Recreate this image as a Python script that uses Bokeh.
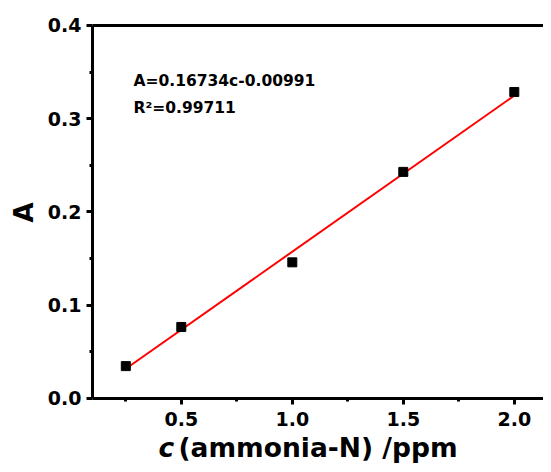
import math
from bokeh.plotting import figure
from bokeh.models import Range1d, FixedTicker, Label, LinearAxis
from bokeh.embed import file_html
from bokeh.resources import INLINE

# data
conc = [0.25, 0.5, 1.0, 1.5, 2.0]
absorb = [0.0347, 0.0767, 0.146, 0.243, 0.3287]
fit_x = [0.25, 2.0]
fit_y = [0.0319, 0.3248]
x_ticks = [0.5, 1.0, 1.5, 2.0]
x_minor = [0.25, 0.75, 1.25, 1.75]
y_ticks = [0.0, 0.1, 0.2, 0.3, 0.4]
y_minor = [0.05, 0.15, 0.25, 0.35]
eq_text = "A=0.16734c-0.00991"
r2_text = "R\u00b2=0.99711"

FONT = "DejaVu Sans"
X0, X1 = 0.1, 2.1315
Y0, Y1 = 0.0, 0.4

# the frame fills the canvas; the axes sit at c = 0.1 and A = 0 (top line at A = 0.4)
p = figure(width=543, height=464,
           min_border_left=0, min_border_right=0, min_border_top=0, min_border_bottom=0,
           x_range=Range1d(-0.3144, X1), y_range=Range1d(-0.0708, 0.4268),
           output_backend="svg", toolbar_location=None)
p.outline_line_color = None
p.xgrid.visible = False
p.ygrid.visible = False
p.background_fill_color = "white"
p.border_fill_color = "white"

p.line(fit_x, fit_y, line_color="#ff0000", line_width=2)
p.scatter(conc, absorb, marker="square", size=9, fill_color="black", line_color="black")

for ax in (p.xaxis[0], p.yaxis[0]):
    ax.axis_line_width = 3
    ax.axis_line_color = "black"
    ax.major_tick_line_width = 3
    ax.minor_tick_line_width = 3
    ax.major_tick_in = 0
    ax.major_tick_out = 6
    ax.minor_tick_in = 0
    ax.minor_tick_out = 3
    ax.major_label_text_font = FONT
    ax.major_label_text_font_style = "bold"
    ax.major_label_text_font_size = "19px"
    ax.major_label_text_color = "black"

p.xaxis.ticker = FixedTicker(ticks=x_ticks, minor_ticks=x_minor)
p.yaxis.ticker = FixedTicker(ticks=y_ticks, minor_ticks=y_minor)
p.xaxis.major_label_overrides = {t: f"{t:.1f}" for t in x_ticks}
p.yaxis.major_label_overrides = {t: f"{t:.1f}" for t in y_ticks}
p.xaxis.major_label_standoff = 8
p.yaxis.major_label_standoff = 5
p.xaxis.fixed_location = Y0
p.yaxis.fixed_location = X0
p.xaxis.bounds = (X0, X1)
p.yaxis.bounds = (Y0, Y1)

# top frame line
top = LinearAxis(ticker=FixedTicker(ticks=[]), axis_line_width=3, axis_line_color="black",
                 major_tick_line_color=None, minor_tick_line_color=None,
                 major_label_text_font_size="0px", major_label_standoff=0,
                 bounds=(X0, X1), fixed_location=Y1)
p.add_layout(top, "above")

# y axis title
p.add_layout(Label(x=-0.2063, y=0.1995, text="A", angle=math.pi / 2,
                   text_font=FONT, text_font_style="bold", text_font_size="26px",
                   text_align="center", text_baseline="middle", text_color="black"))

# x axis title with italic c
p.add_layout(Label(x=0.3973, y=-0.0525, text="c",
                   text_font=FONT, text_font_style="bold italic", text_font_size="26.5px",
                   text_baseline="alphabetic", text_color="black"))
p.add_layout(Label(x=0.4874, y=-0.0525, text="(ammonia-N) /ppm",
                   text_font=FONT, text_font_style="bold", text_font_size="26.5px",
                   text_baseline="alphabetic", text_color="black"))

# fit equation
p.add_layout(Label(x=0.2847, y=0.3402, text=eq_text,
                   text_font=FONT, text_font_style="bold", text_font_size="15.5px",
                   text_baseline="alphabetic", text_color="black"))
p.add_layout(Label(x=0.2847, y=0.3116, text=r2_text,
                   text_font=FONT, text_font_style="bold", text_font_size="15.5px",
                   text_baseline="alphabetic", text_color="black"))

open("out.html", "w").write(file_html(p, INLINE))
